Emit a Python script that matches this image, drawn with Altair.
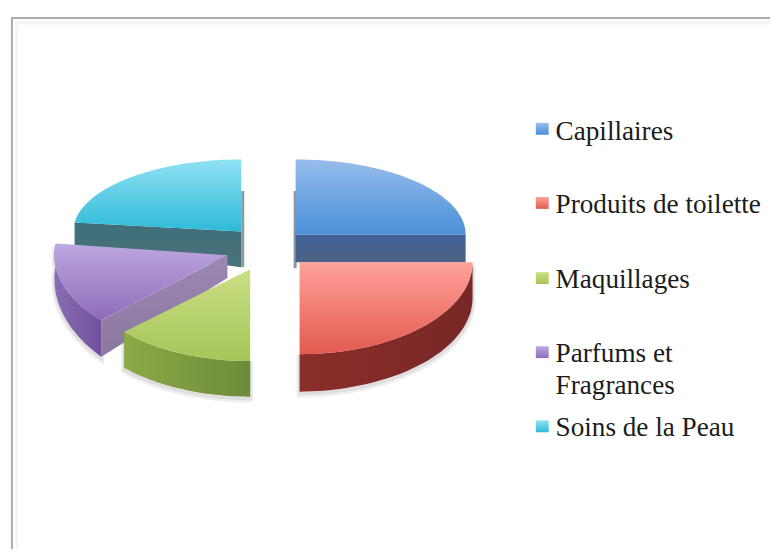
import math
import altair as alt
import pandas as pd

CATEGORIES = ["Capillaires", "Produits de toilette", "Maquillages", "Parfums et Fragrances", "Soins de la Peau"]
LABELS = ["Capillaires", "Produits de toilette", "Maquillages", "Parfums et\nFragrances", "Soins de la Peau"]
VALUES = [25, 25, 13, 14, 23]

# layout of the exploded pseudo-3D pie, in page pixels
GEOM = {
    "Capillaires": dict(ax=296, ay=234, rx=172, ry=76),
    "Produits de toilette": dict(ax=300, ay=262, rx=175, ry=93),
    "Maquillages": dict(ax=250, ay=269, rx=175, ry=93),
    "Parfums et Fragrances": dict(ax=227, ay=255, rx=175, ry=96),
    "Soins de la Peau": dict(ax=241, ay=231, rx=170, ry=73),
}
TOP = {
    "Capillaires": ("#97BDEC", "#4A90D8"),
    "Produits de toilette": ("#FFA29A", "#E25A4F"),
    "Maquillages": ("#CBDF85", "#A5C658"),
    "Parfums et Fragrances": ("#BDA8DF", "#8F6BBA"),
    "Soins de la Peau": ("#90E2F4", "#2EBAD8"),
}
WALL = {
    "Capillaires": ("#3F6199", "#4D6283"),
    "Produits de toilette": ("#8A2E2A", "#772826"),
    "Maquillages": ("#8CAA48", "#6E8B38"),
    "Parfums et Fragrances": ("#8A6DB4", "#70509C"),
    "Soins de la Peau": ("#3F6F7A", "#4A717A"),
}
FLAT_WALL = {"Parfums et Fragrances": ("#9A88B2", "#8A789F")}
LEGEND_BASE = [138, 212, 288, 363, 438]
SWATCH_TOP = [121, 196, 272, 347, 422]

W, H = 768, 544
X = alt.X("x:Q", scale=alt.Scale(domain=[8, 8 + W], nice=False, zero=False, padding=0), axis=None)
Y = alt.Y("y:Q", scale=alt.Scale(domain=[8 + H, 8], nice=False, zero=False, padding=0), axis=None)


def grad(c, x2=0, y2=1):
    return alt.Gradient(
        gradient="linear", x1=0, y1=0, x2=x2, y2=y2,
        stops=[alt.GradientStop(offset=0, color=c[0]), alt.GradientStop(offset=1, color=c[1])],
    )


def poly(points, fill=None, stroke=None, sw=0, op=1.0):
    df = pd.DataFrame([{"x": p[0], "y": p[1], "i": i} for i, p in enumerate(points)])
    kw = dict(strokeWidth=sw, opacity=op, interpolate="linear-closed")
    kw["fill"] = fill if fill is not None else "transparent"
    kw["stroke"] = stroke if stroke is not None else "transparent"
    return alt.Chart(df).mark_line(**kw).encode(x=X, y=Y, order="i:Q")


def pt(g, deg, dy=0.0):
    a = math.radians(deg)
    return (g["ax"] + g["rx"] * math.sin(a), g["ay"] - g["ry"] * math.cos(a) + dy)


def arc(g, a0, a1, n=40, h0=0.0, h1=0.0):
    return [pt(g, a0 + (a1 - a0) * k / n, h0 + (h1 - h0) * k / n) for k in range(n + 1)]


total = sum(VALUES)
spans = {}
acc = 0.0
for c, v in zip(CATEGORIES, VALUES):
    spans[c] = (acc, acc + 360.0 * v / total)
    acc = spans[c][1]


def top_face(c):
    g = GEOM[c]
    a0, a1 = spans[c]
    return poly([(g["ax"], g["ay"])] + arc(g, a0, a1), fill=grad(TOP[c]))


def curved(c, a0, a1, h0, h1):
    g = GEOM[c]
    t = arc(g, a0, a1)
    b = arc(g, a0, a1, h0=h0, h1=h1)
    pts = t + b[::-1]
    return [
        poly([(x, y + 3) for x, y in pts], stroke="#808080", sw=6, op=0.12),
        poly([(x, y + 2) for x, y in pts], stroke="#808080", sw=3, op=0.15),
        poly(pts, fill=grad(WALL[c], x2=1, y2=0)),
    ]


layers = []
# frame
inner = pd.DataFrame({"x": [14, 14, 776], "y": [552, 20, 20], "i": [0, 1, 2]})
layers.append(alt.Chart(inner).mark_line(stroke="#F4F4F4", strokeWidth=3).encode(x=X, y=Y, order="i:Q"))
frame = pd.DataFrame({"x": [9, 9, 776], "y": [552, 15, 15], "i": [0, 1, 2]})
layers.append(alt.Chart(frame).mark_line(stroke="#ABABAB", strokeWidth=2).encode(x=X, y=Y, order="i:Q"))

# Capillaires
c = CATEGORIES[0]
g = GEOM[c]
e = pt(g, spans[c][1])
layers.append(poly([(294, 190), (297, 190), (297, 268), (294, 268)], fill="#8C93A6"))
layers.append(poly([(g["ax"], g["ay"]), e, (e[0], e[1] + 28), (g["ax"], g["ay"] + 28)], fill=grad(WALL[c])))
layers.append(top_face(c))

# Soins de la Peau
c = CATEGORIES[4]
g = GEOM[c]
s = pt(g, spans[c][0])
layers.append(poly([(241, 190), (244, 190), (244, 267), (241, 267)], fill="#8C9AA0"))
layers.append(poly([s, (g["ax"], g["ay"]), (g["ax"], g["ay"] + 36), (s[0], s[1] + 23)], fill=grad(WALL[c])))
layers.append(top_face(c))

# Parfums et Fragrances
c = CATEGORIES[3]
g = GEOM[c]
a0, a1 = spans[c]
layers.extend(curved(c, a0, a1, 37, 22))
s = pt(g, a0)
layers.append(poly([(g["ax"], g["ay"]), (g["ax"], g["ay"] + 23), (s[0], s[1] + 37), s], fill=grad(FLAT_WALL[c])))
layers.append(top_face(c))

# Maquillages
c = CATEGORIES[2]
a0, a1 = spans[c]
layers.extend(curved(c, a0, a1, 36, 36))
layers.append(top_face(c))

# Produits de toilette
c = CATEGORIES[1]
a0, a1 = spans[c]
layers.extend(curved(c, a0, a1, 36, 38))
layers.append(top_face(c))

# legend
for c, st in zip(CATEGORIES, SWATCH_TOP):
    layers.append(poly([(539, st), (552, st), (552, st + 12), (539, st + 12)], fill=grad(TOP[c])))
leg = pd.DataFrame({"label": LABELS, "x": [559] * 5, "y": LEGEND_BASE})
layers.append(
    alt.Chart(leg)
    .mark_text(
        align="left", baseline="alphabetic", font="Liberation Serif", fontSize=27.5,
        color="#1C1C1C", lineBreak="\n", lineHeight=32,
    )
    .encode(x=X, y=Y, text="label:N")
)

chart = (
    alt.layer(*layers)
    .properties(width=W, height=H, padding=0, background="white")
    .configure_view(stroke=None)
)
chart.save("out.html", embed_options={"renderer": "svg", "actions": False})
